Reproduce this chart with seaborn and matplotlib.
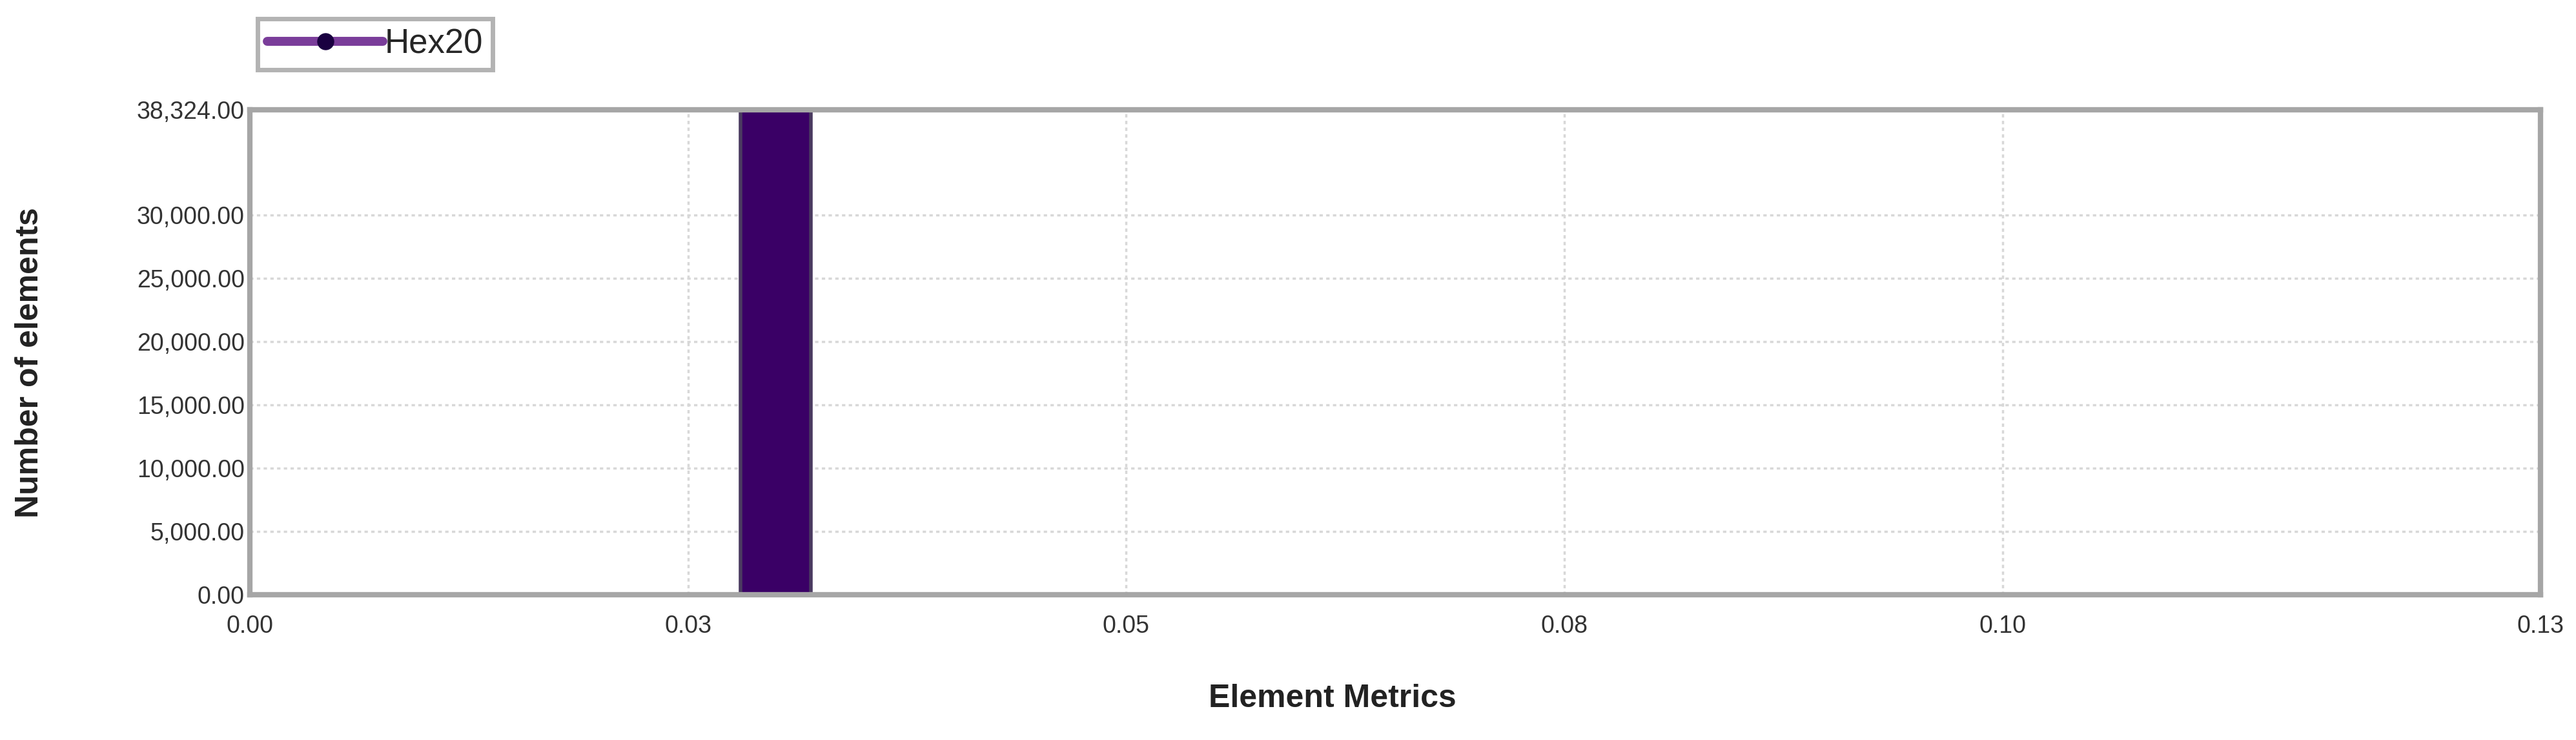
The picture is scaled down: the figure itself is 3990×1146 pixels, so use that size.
import matplotlib
matplotlib.use("Agg")
import matplotlib.pyplot as plt
import seaborn as sns
from matplotlib.lines import Line2D

# histogram data
bin_edges = [0.028, 0.032]
bin_centers = [0.030]
counts = [38324]
series_name = "Hex20"

x_max = 0.1307
y_max = 38324
x_ticks = [0.0, 0.025, 0.05, 0.075, 0.10, x_max]
x_tick_labels = ["0.00", "0.03", "0.05", "0.08", "0.10", "0.13"]
y_ticks = [0, 5000, 10000, 15000, 20000, 25000, 30000, y_max]
y_tick_labels = ["0.00", "5,000.00", "10,000.00", "15,000.00", "20,000.00",
                 "25,000.00", "30,000.00", "38,324.00"]

sns.set_style("white")
plt.rcParams["font.family"] = ["Liberation Sans", "DejaVu Sans"]

fig = plt.figure(figsize=(39.91, 11.46), dpi=100)
ax = fig.add_axes([0.097, 0.1963, 0.889, 0.655])

sns.histplot(x=bin_centers, weights=counts, bins=bin_edges, ax=ax,
             color="#3a0066", alpha=1, edgecolor="#4a3a60", linewidth=4)

ax.set_xlim(0, x_max)
ax.set_ylim(0, y_max)
ax.set_xticks(x_ticks)
ax.set_xticklabels(x_tick_labels, fontsize=27, color="#333333")
ax.set_yticks(y_ticks)
ax.set_yticklabels(y_tick_labels, fontsize=27, color="#333333")
ax.tick_params(axis="x", length=14, width=2, color="#d0d0d0", pad=8)
ax.tick_params(axis="y", length=0, pad=6)

# dotted grid, drawn only on inner ticks
for xv in x_ticks[1:-1]:
    ax.axvline(xv, color="#d8d8d8", linestyle=(0, (1.5, 1.5)), linewidth=2.5, zorder=0)
for yv in y_ticks[1:-1]:
    ax.axhline(yv, color="#d8d8d8", linestyle=(0, (1.5, 1.5)), linewidth=2.5, zorder=0)

for sp in ax.spines.values():
    sp.set_visible(True)
    sp.set_color("#a6a6a6")
    sp.set_linewidth(6)

ax.set_xlabel("")
ax.set_ylabel("")
fig.text(0.517, 0.056, "Element Metrics", fontsize=36, fontweight="bold",
         ha="center", va="center", color="#222222")
fig.text(0.0115, 0.51, "Number of elements", fontsize=36, fontweight="bold",
         rotation=90, ha="center", va="center", color="#222222")

handle = Line2D([0], [0], color="#7a3d9a", linewidth=10, marker="o",
                markersize=18, markerfacecolor="#1a0040", markeredgecolor="#1a0040")
leg = fig.legend([handle], [series_name], loc="upper left",
                 bbox_to_anchor=(0.1, 0.975), fontsize=38, frameon=True,
                 fancybox=False, handlelength=3.4, handletextpad=0.05,
                 borderpad=0.28, borderaxespad=0)
leg.get_frame().set_edgecolor("#a0a0a0")
leg.get_frame().set_linewidth(5)

fig.savefig("out.png", dpi=100)
